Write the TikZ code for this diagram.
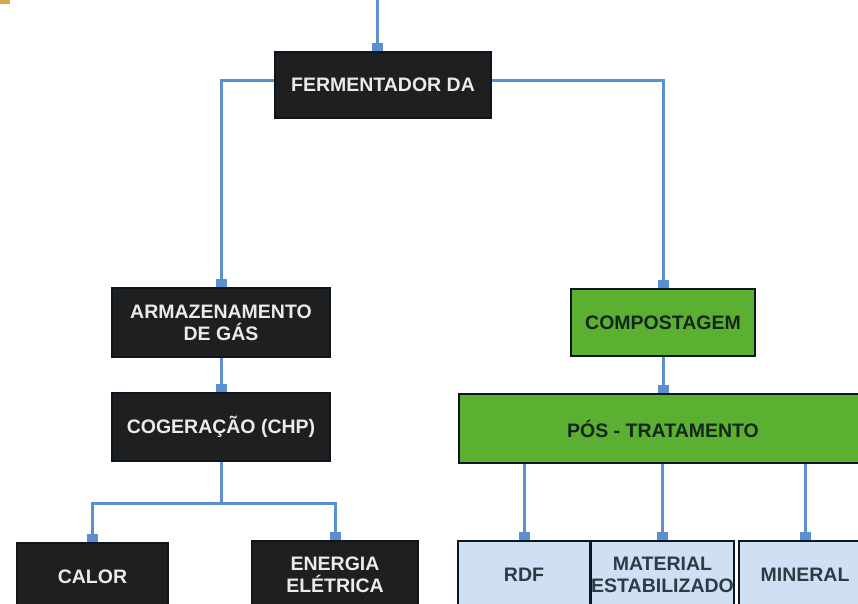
\documentclass[tikz,border=0pt]{standalone}
\usepackage{fontspec}
\setmainfont{Liberation Sans}
\usetikzlibrary{arrows.meta,calc}
\definecolor{darkbox}{HTML}{1F1F1F}
\definecolor{edge}{HTML}{0B1620}
\definecolor{greenbox}{HTML}{5BB031}
\definecolor{lightbox}{HTML}{CFE0F4}
\definecolor{flow}{HTML}{5B8FD0}
\definecolor{greentext}{HTML}{14251A}
\definecolor{lighttext}{HTML}{2E3A44}
\definecolor{patch}{HTML}{D8A848}
\tikzset{
  box/.style={draw=edge, line width=2.5pt, inner sep=0pt, align=center,
    font=\fontsize{19.5}{22}\selectfont\bfseries},
  darkstyle/.style={box, fill=darkbox, text=white!92!black},
  greenstyle/.style={box, fill=greenbox, text=greentext},
  lightstyle/.style={box, fill=lightbox, text=lighttext},
  link/.style={draw=flow, line width=3pt, -{Rectangle[width=11pt,length=8pt]}},
  plain/.style={draw=flow, line width=3pt}
}
\begin{document}
\begin{tikzpicture}[x=1pt,y=-1pt]
\useasboundingbox (0,0) rectangle (858,603);
\clip (0,0) rectangle (858,603);
\fill[white] (0,0) rectangle (858,603);
\fill[patch] (0,0) rectangle (10,3.5);

% nodes
\node[darkstyle, minimum width=216pt, minimum height=66pt] (ferm) at (383,85) {FERMENTADOR DA};
\node[darkstyle, minimum width=218pt, minimum height=69pt] (arm) at (221,322.5) {ARMAZENAMENTO\\DE GÁS};
\node[darkstyle, minimum width=218pt, minimum height=68pt] (cog) at (221,427) {COGERAÇÃO (CHP)};
\node[darkstyle, minimum width=151pt, minimum height=68pt] (calor) at (92.5,577) {CALOR};
\node[darkstyle, minimum width=166pt, minimum height=68pt] (ener) at (335,575) {ENERGIA\\ELÉTRICA};
\node[greenstyle, minimum width=184pt, minimum height=67pt] (comp) at (663,322.5) {COMPOSTAGEM};
\node[greenstyle, minimum width=408pt, minimum height=69pt] (pos) at (663,428.5) {PÓS - TRATAMENTO};
\node[lightstyle, minimum width=132pt, minimum height=68pt] (rdf) at (524,575) {RDF};
\node[lightstyle, minimum width=139pt, minimum height=68pt] (mat) at (662.5,575) {MATERIAL\\ESTABILIZADO};
\node[lightstyle, minimum width=132pt, minimum height=68pt] (mine) at (805,575) {MINERAL};

% connectors
\coordinate (top) at (377,-5);
\draw[link] (top) -- (top |- ferm.north);
\draw[link] ($(ferm.west)+(0,-5)$) -| (arm.north);
\draw[link] ($(ferm.east)+(0,-5)$) -| (comp.north);
\draw[link] (arm.south) -- (cog.north);
\draw[link] (comp.south) -- (pos.north);
\coordinate (split) at (221,503);
\draw[plain] (cog.south) -- (split);
\draw[link] (split) -| (calor.north);
\draw[link] (split) -| (ener.north);
\draw[link] (pos.south -| rdf.north) -- (rdf.north);
\draw[link] (pos.south -| mat.north) -- (mat.north);
\draw[link] (pos.south -| mine.north) -- (mine.north);
\end{tikzpicture}
\end{document}
